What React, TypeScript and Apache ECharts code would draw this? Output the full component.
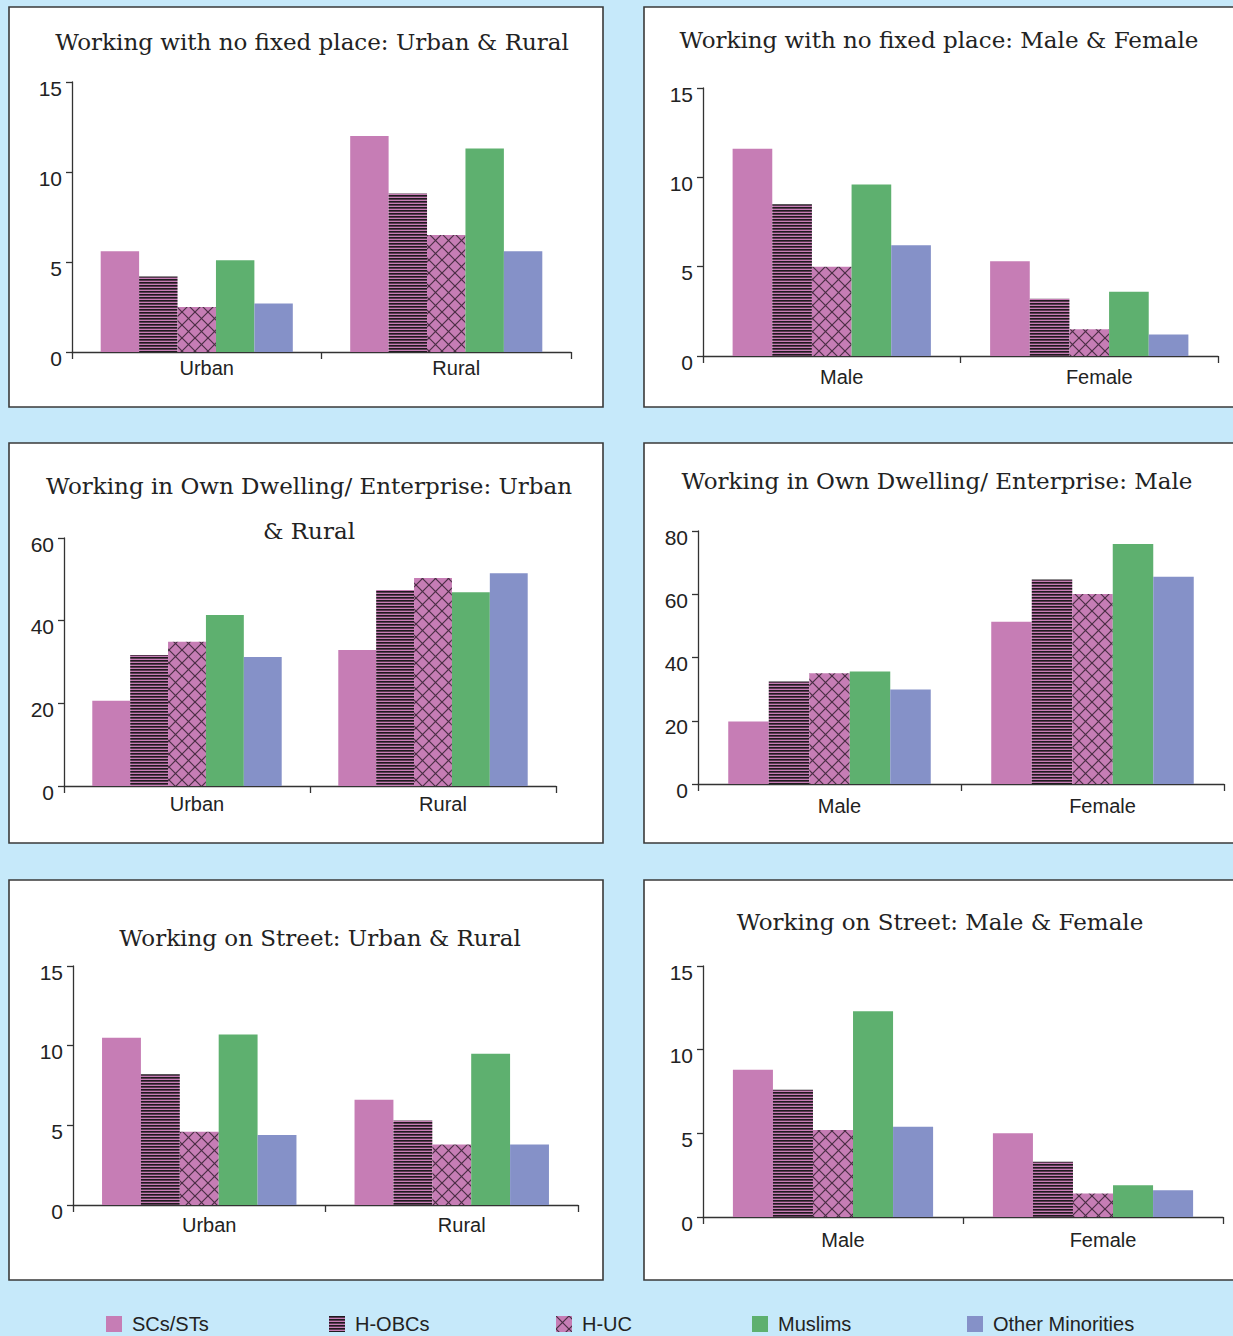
import React, { useEffect, useRef } from "react";
import * as echarts from "echarts";

// ---------- data ----------
const groups = ["SCs/STs", "H-OBCs", "H-UC", "Muslims", "Other Minorities"];
const areaCats = ["Urban", "Rural"];
const sexCats = ["Male", "Female"];

// rows follow `groups`, columns follow the panel's categories
const noFixedUrbanRural = [
  [5.6, 12.0],
  [4.2, 8.8],
  [2.5, 6.5],
  [5.1, 11.3],
  [2.7, 5.6],
];
const noFixedMaleFemale = [
  [11.6, 5.3],
  [8.5, 3.2],
  [5.0, 1.5],
  [9.6, 3.6],
  [6.2, 1.2],
];
const dwellingUrbanRural = [
  [20.6, 32.9],
  [31.7, 47.4],
  [34.9, 50.3],
  [41.4, 46.9],
  [31.2, 51.5],
];
const dwellingMaleFemale = [
  [19.8, 51.3],
  [32.4, 64.7],
  [35.0, 60.1],
  [35.6, 75.9],
  [29.9, 65.5],
];
const streetUrbanRural = [
  [10.5, 6.6],
  [8.2, 5.3],
  [4.6, 3.8],
  [10.7, 9.5],
  [4.4, 3.8],
];
const streetMaleFemale = [
  [8.8, 5.0],
  [7.6, 3.3],
  [5.2, 1.4],
  [12.3, 1.9],
  [5.4, 1.6],
];

const titles = [
  "Working with no fixed place: Urban & Rural",
  "Working with no fixed place: Male & Female",
  "Working in Own Dwelling/ Enterprise: Urban\n& Rural",
  "Working in Own Dwelling/ Enterprise: Male",
  "Working on Street: Urban & Rural",
  "Working on Street: Male & Female",
];
const panelData = [
  noFixedUrbanRural,
  noFixedMaleFemale,
  dwellingUrbanRural,
  dwellingMaleFemale,
  streetUrbanRural,
  streetMaleFemale,
];
const panelCats = [areaCats, sexCats, areaCats, sexCats, areaCats, sexCats];
const axisMax = [15, 15, 60, 80, 15, 15];
const axisInterval = [5, 5, 20, 20, 5, 5];

// ---------- layout ----------
const panelBoxes = [
  { x: 9, y: 7 },
  { x: 644, y: 7 },
  { x: 9, y: 443 },
  { x: 644, y: 443 },
  { x: 9, y: 880 },
  { x: 644, y: 880 },
];
const grids = [
  { left: 72, top: 82, width: 499, height: 270 },
  { left: 703, top: 88, width: 515, height: 268 },
  { left: 64, top: 538, width: 492, height: 248 },
  { left: 698, top: 531, width: 526, height: 253 },
  { left: 73, top: 966, width: 505, height: 239 },
  { left: 703, top: 966, width: 520, height: 251 },
];
const xLabelMargin = [6, 11, 8, 12, 10, 13];
const titlePos = [
  { x: 312, y: 42 },
  { x: 939, y: 40 },
  { x: 309, y: 508 },
  { x: 937, y: 481 },
  { x: 320, y: 938 },
  { x: 940, y: 922 },
];
const legendLeft = [106, 329, 556, 752, 967];

const PINK = "#c67db5";
const GREEN = "#5eb06f";
const BLUE = "#8591c8";

function stripeCanvas() {
  const c = document.createElement("canvas");
  c.width = 3;
  c.height = 3;
  const ctx = c.getContext("2d")!;
  ctx.fillStyle = PINK;
  ctx.fillRect(0, 0, 3, 3);
  ctx.fillStyle = "#1f1a1f";
  ctx.fillRect(0, 0, 3, 1);
  ctx.fillStyle = "#5a3a52";
  ctx.fillRect(0, 1, 3, 1);
  return c;
}

function hatchCanvas() {
  const s = 13;
  const c = document.createElement("canvas");
  c.width = s;
  c.height = s;
  const ctx = c.getContext("2d")!;
  ctx.fillStyle = PINK;
  ctx.fillRect(0, 0, s, s);
  ctx.strokeStyle = "#4a2f45";
  ctx.lineWidth = 1.2;
  for (const d of [-s, 0, s]) {
    ctx.beginPath();
    ctx.moveTo(d, 0);
    ctx.lineTo(d + s, s);
    ctx.stroke();
    ctx.beginPath();
    ctx.moveTo(d + s, 0);
    ctx.lineTo(d, s);
    ctx.stroke();
  }
  return c;
}

export default function App() {
  const ref = useRef<HTMLDivElement>(null);

  useEffect(() => {
    document.body.style.margin = "0";
    if (!ref.current) return;
    const chart = echarts.init(ref.current, null, { renderer: "svg" });

    const fills: any[] = [
      PINK,
      { image: stripeCanvas(), repeat: "repeat", imageWidth: 3, imageHeight: 3 },
      { image: hatchCanvas(), repeat: "repeat", imageWidth: 13, imageHeight: 13 },
      GREEN,
      BLUE,
    ];

    const axisColor = "#333";
    const labelFont = "'Liberation Sans', Arial, sans-serif";

    const series: any[] = [];
    panelData.forEach((rows, p) => {
      rows.forEach((vals, g) => {
        series.push({
          type: "bar",
          name: groups[g],
          xAxisIndex: p,
          yAxisIndex: p,
          data: vals,
          barGap: "0%",
          barCategoryGap: "23%",
          itemStyle: { color: fills[g] },
        });
      });
    });

    const option: any = {
      animation: false,
      backgroundColor: "#c6e9fa",
      title: titles.map((t, i) => ({
        text: t,
        left: titlePos[i].x,
        top: titlePos[i].y,
        padding: 0,
        textAlign: "center",
        textVerticalAlign: "middle",
        textStyle: {
          fontFamily: "'DejaVu Serif', serif",
          fontSize: 23,
          fontWeight: "normal",
          color: "#222",
          lineHeight: 45,
        },
      })),
      legend: groups.map((g, i) => ({
        data: [g],
        left: legendLeft[i],
        top: 1314,
        padding: 0,
        itemWidth: 16,
        itemHeight: 16,
        icon: "rect",
        selectedMode: false,
        textStyle: {
          fontFamily: "'Liberation Sans Narrow', 'Liberation Sans', Arial, sans-serif",
          fontSize: 20,
          color: "#222",
          padding: [0, 0, 0, 5],
        },
      })),
      graphic: panelBoxes.map((b) => ({
        type: "rect",
        z: -10,
        silent: true,
        shape: { x: b.x, y: b.y, width: 594, height: 400 },
        style: { fill: "#fff", stroke: "#3a3a3a", lineWidth: 1.6 },
      })),
      grid: grids.map((g) => ({ ...g, containLabel: false })),
      xAxis: panelCats.map((cats, i) => ({
        type: "category",
        gridIndex: i,
        data: cats,
        boundaryGap: true,
        axisLine: { show: true, lineStyle: { color: axisColor, width: 1.3 } },
        axisTick: { show: true, length: 7, lineStyle: { color: axisColor, width: 1.3 } },
        axisLabel: {
          color: "#222",
          fontFamily: labelFont,
          fontSize: 20,
          margin: xLabelMargin[i],
          padding: [0, 0, 0, 20],
        },
        splitLine: { show: false },
      })),
      yAxis: axisMax.map((m, i) => ({
        type: "value",
        gridIndex: i,
        min: 0,
        max: m,
        interval: axisInterval[i],
        axisLine: { show: true, lineStyle: { color: axisColor, width: 1.3 } },
        axisTick: { show: true, length: 6, lineStyle: { color: axisColor, width: 1.3 } },
        axisLabel: {
          color: "#222",
          fontFamily: labelFont,
          fontSize: 21,
          margin: 10,
          verticalAlign: "top",
          lineHeight: 12,
        },
        splitLine: { show: false },
      })),
      series,
    };

    chart.setOption(option);
    return () => chart.dispose();
  }, []);

  return <div ref={ref} style={{ width: 1233, height: 1336 }} />;
}
